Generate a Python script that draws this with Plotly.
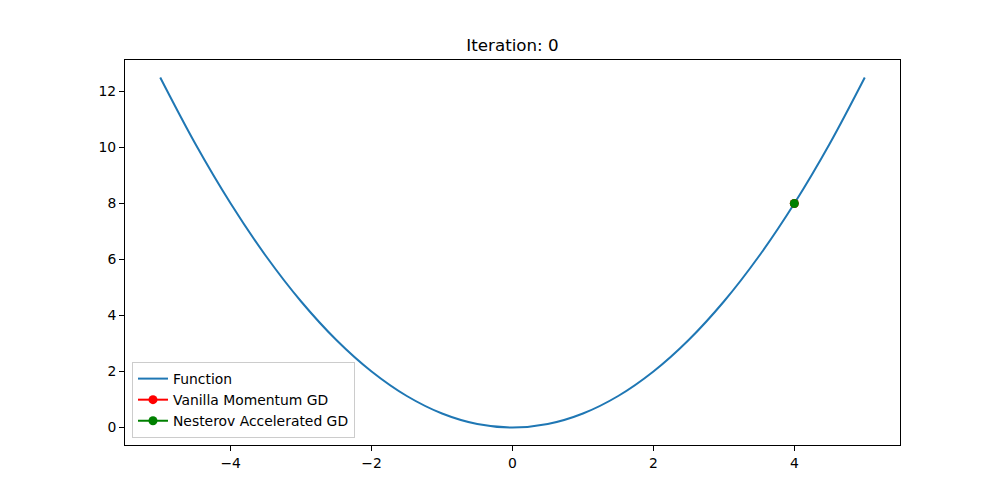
import plotly.graph_objects as go

# Function curve values
func_x = [-5.0, -4.5, -4.0, -3.5, -3.0, -2.5, -2.0, -1.5, -1.0, -0.5, 0.0,
          0.5, 1.0, 1.5, 2.0, 2.5, 3.0, 3.5, 4.0, 4.5, 5.0]
func_y = [12.5, 10.125, 8.0, 6.125, 4.5, 3.125, 2.0, 1.125, 0.5, 0.125, 0.0,
          0.125, 0.5, 1.125, 2.0, 3.125, 4.5, 6.125, 8.0, 10.125, 12.5]

vanilla_x = [4.0]
vanilla_y = [8.0]
nesterov_x = [4.0]
nesterov_y = [8.0]

x_ticks = [-4, -2, 0, 2, 4]
y_ticks = [0, 2, 4, 6, 8, 10, 12]

fig = go.Figure()
fig.add_trace(go.Scatter(x=func_x, y=func_y, mode="lines", name="Function",
                         line=dict(color="#1f77b4", width=2, shape="spline", smoothing=1.0)))
fig.add_trace(go.Scatter(x=vanilla_x, y=vanilla_y, mode="lines+markers",
                         name="Vanilla Momentum GD",
                         line=dict(color="red", width=2),
                         marker=dict(color="red", size=9)))
fig.add_trace(go.Scatter(x=nesterov_x, y=nesterov_y, mode="lines+markers",
                         name="Nesterov Accelerated GD",
                         line=dict(color="green", width=2),
                         marker=dict(color="green", size=9)))

axis_common = dict(showgrid=False, zeroline=False, showline=True, linecolor="black",
                   linewidth=1, mirror=True, ticks="outside", ticklen=5,
                   tickcolor="black", tickfont=dict(size=13.9, color="black"))

fig.update_layout(
    width=1000, height=500,
    margin=dict(l=117, r=108, t=52, b=63),
    paper_bgcolor="white", plot_bgcolor="white",
    font=dict(family="DejaVu Sans", size=13.9, color="black"),
    title=dict(text="Iteration: 0", x=0.5, xref="paper", xanchor="center",
               y=0.926, yref="container", yanchor="middle",
               font=dict(size=16.7, color="black")),
    xaxis=dict(range=[-5.5, 5.5], tickvals=x_ticks, **axis_common),
    yaxis=dict(range=[-0.625, 13.125], tickvals=y_ticks, **axis_common),
    legend=dict(x=0.009, y=0.018, xanchor="left", yanchor="bottom",
                bgcolor="rgba(255,255,255,0.8)", bordercolor="#cccccc", borderwidth=1,
                font=dict(size=13.9), tracegroupgap=0),
    showlegend=True,
)

fig.write_html("out.html")
